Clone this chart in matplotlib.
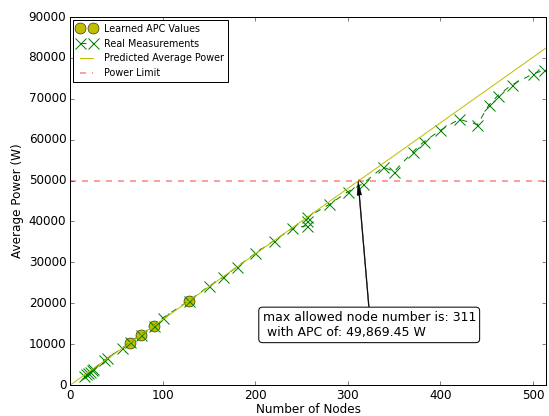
import matplotlib
matplotlib.use("Agg")
import matplotlib.pyplot as plt

plt.style.use('classic')

# learned APC points (nodes, watts)
learned_nodes = [64, 76, 90, 128]
learned_power = [10262, 12187, 14432, 20525]

# measured points
real_nodes = [15, 17, 19, 21, 23, 25, 36, 40, 56, 64, 76, 90, 100, 128, 150, 165, 180,
              200, 220, 240, 256, 256, 256, 280, 300, 316, 338, 350, 370, 382, 400,
              420, 440, 452, 462, 477, 500, 512]
real_power = [2300, 2700, 3000, 3300, 3600, 3900, 6000, 6500, 9000, 10400, 12300, 14500,
              16400, 20600, 24200, 26300, 28900, 32200, 35300, 38300, 39000, 40000, 41000,
              44200, 47300, 49200, 53300, 52200, 57000, 59500, 62300, 65000, 63700, 68400,
              70800, 73400, 76100, 77000]

slope = 160.352  # W per node
line_nodes = [0, 516]
power_limit = 50000
max_nodes = 311
max_power = 49869.45

fig = plt.figure(figsize=(549 / 72, 416 / 72), dpi=72, facecolor='white')
ax = fig.add_axes([0.128, 0.0745, 0.8665, 0.8845])

ax.plot(learned_nodes, learned_power, 'yo', markersize=11, markeredgecolor='black',
        label='Learned APC Values')
ax.plot(real_nodes, real_power, 'gx--', markersize=11, markeredgewidth=1.0,
        label='Real Measurements')
ax.plot(line_nodes, [slope * n for n in line_nodes], 'y-', linewidth=1,
        label='Predicted Average Power')
ax.axhline(power_limit, color='r', linestyle='--', linewidth=1.5, alpha=0.5,
           label='Power Limit')

ax.annotate('max allowed node number is: %d\n with APC of: %s W' % (max_nodes, format(max_power, ',.2f')),
            xy=(max_nodes, max_power), xytext=(323, 14700), ha='center', va='center',
            multialignment='left', fontsize=12.5,
            bbox=dict(boxstyle='round,pad=0.3', fc='white', ec='black'),
            arrowprops=dict(facecolor='black', edgecolor='black', width=0.8, linewidth=0.5,
                            headwidth=4.5, headlength=14, shrink=0.0))

ax.set_xlim(0, 514)
ax.set_ylim(0, 90000)
ax.set_xlabel('Number of Nodes', labelpad=1)
ax.set_ylabel('Average Power (W)')
ax.legend(loc='upper left', fontsize=9.6, numpoints=2, borderaxespad=0.3)

fig.savefig('out.png', dpi=72, facecolor='white')
